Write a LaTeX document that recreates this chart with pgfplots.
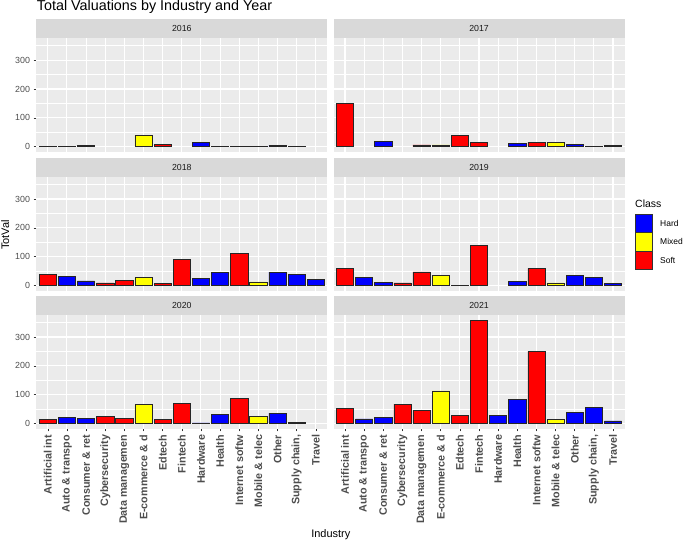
\documentclass[border=0pt]{standalone}
\usepackage{fontspec}
\setmainfont{Liberation Sans}
\usepackage{pgfplots}
\pgfplotsset{compat=1.18}

\definecolor{panelbg}{HTML}{EBEBEB}
\definecolor{stripbg}{HTML}{D9D9D9}
\definecolor{grey30}{HTML}{4D4D4D}
\definecolor{grey20}{HTML}{333333}
\definecolor{hardc}{HTML}{0000FF}
\definecolor{mixedc}{HTML}{FFFF00}
\definecolor{softc}{HTML}{FF0000}

\pgfplotsset{
  facet/.style={
    scale only axis, width=291bp, height=113.5bp, anchor=south west,
    xmin=0.4, xmax=15.6, ymin=-17.9, ymax=375.9,
    axis background/.style={fill=panelbg},
    axis line style={draw=none},
    xtick={1,...,15}, ytick={0,100,200,300}, minor ytick={50,150,250,350},
    xmajorgrids, ymajorgrids, yminorgrids,
    major grid style={white, line width=1.1bp},
    minor grid style={white, line width=0.55bp},
    tick align=outside, tick pos=left,
    major tick length=2.75bp, minor tick length=0pt,
    tick style={grey20, line width=0.55bp},
    ybar, bar width=0.9, bar shift=0pt,
    every axis plot/.append style={draw=black!85, line width=0.6bp},
    every axis title shift=0pt,
    title style={at={(0.5,1)}, anchor=south, fill=stripbg,
      minimum width=291bp, minimum height=19bp, inner sep=0pt,
      text=black!90, font=\fontsize{8.8}{10}\selectfont},
    yticklabel style={font=\fontsize{8.9}{10}\selectfont, text=grey30},
    xticklabel style={font=\fontsize{10.8}{12}\selectfont\bfseries, text=grey30,
      rotate=90, anchor=east},
    xticklabels={Artificial int, Auto \& transpo, Consumer \& ret, Cybersecurity,
      Data managemen, E-commerce \& d, Edtech, Fintech, Hardware, Health,
      Internet softw, Mobile \& telec, Other, {Supply chain,}, Travel},
    /pgf/number format/assume math mode=true,
  },
  nox/.style={xticklabels={}, xtick style={draw=none}},
  noy/.style={yticklabels={}, ytick style={draw=none}},
}

\begin{document}
\begin{tikzpicture}
\path[use as bounding box] (0bp,0bp) rectangle (685bp,541bp);

% 2016
\begin{axis}[facet, nox, at={(36.3bp,389.2bp)}, title={2016}]
\addplot[fill=hardc] coordinates {(2,1.5) (3,4) (9,16) (10,1.5) (13,4) (14,2)};
\addplot[fill=mixedc] coordinates {(6,40) (12,2)};
\addplot[fill=softc] coordinates {(1,1.5) (7,8) (11,1.5)};
\end{axis}

% 2017
\begin{axis}[facet, nox, noy, at={(333.5bp,389.2bp)}, title={2017}]
\addplot[fill=hardc] coordinates {(3,17) (10,12) (13,7) (14,1.5) (15,5)};
\addplot[fill=mixedc] coordinates {(6,6) (12,15)};
\addplot[fill=softc] coordinates {(1,150) (5,6) (7,40) (8,15) (11,15)};
\end{axis}

% 2018
\begin{axis}[facet, nox, at={(36.3bp,250.4bp)}, title={2018}]
\addplot[fill=hardc] coordinates {(2,31) (3,16) (9,25) (10,44) (13,46) (14,39) (15,22)};
\addplot[fill=mixedc] coordinates {(6,27) (12,12)};
\addplot[fill=softc] coordinates {(1,39) (4,9) (5,18) (7,7) (8,90) (11,112)};
\end{axis}

% 2019
\begin{axis}[facet, nox, noy, at={(333.5bp,250.4bp)}, title={2019}]
\addplot[fill=hardc] coordinates {(2,28) (3,10) (10,13) (13,34) (14,27) (15,6)};
\addplot[fill=mixedc] coordinates {(6,36) (12,9)};
\addplot[fill=softc] coordinates {(1,60) (4,9) (5,47) (7,1.5) (8,140) (11,59)};
\end{axis}

% 2020
\begin{axis}[facet, at={(36.3bp,112.4bp)}, title={2020}]
\addplot[fill=hardc] coordinates {(2,21) (3,17) (9,2) (10,30) (13,36) (14,3)};
\addplot[fill=mixedc] coordinates {(6,65) (12,25)};
\addplot[fill=softc] coordinates {(1,13) (4,24) (5,18) (7,13) (8,70) (11,86)};
\end{axis}

% 2021
\begin{axis}[facet, noy, at={(333.5bp,112.4bp)}, title={2021}]
\addplot[fill=hardc] coordinates {(2,16) (3,20) (9,27) (10,83) (13,37) (14,57) (15,9)};
\addplot[fill=mixedc] coordinates {(6,113) (12,13)};
\addplot[fill=softc] coordinates {(1,52) (4,67) (5,45) (7,27) (8,358) (11,250)};
\end{axis}

% titles and axis labels
\node[anchor=base west, inner sep=0pt, font=\fontsize{14.4}{16}\selectfont] at (36.7bp,530bp)
  {Total Valuations by Industry and Year};
\node[anchor=base, font=\fontsize{11}{13}\selectfont] at (330.8bp,3.7bp) {Industry};
\node[rotate=90, anchor=center, font=\fontsize{11}{13}\selectfont] at (5.3bp,306bp) {TotVal};

% legend
\node[anchor=base west, font=\fontsize{10.5}{12}\selectfont, inner sep=0pt] at (635bp,333.7bp) {Class};
\draw[grey20, line width=0.6bp, fill=hardc]  (635bp,308.3bp) rectangle (652.7bp,326.7bp);
\draw[grey20, line width=0.6bp, fill=mixedc] (635bp,290bp) rectangle (652.7bp,308.3bp);
\draw[grey20, line width=0.6bp, fill=softc]  (635bp,271.4bp) rectangle (652.7bp,290bp);
\node[anchor=west, inner sep=0pt, font=\fontsize{8.5}{10}\selectfont] at (660bp,317.5bp) {Hard};
\node[anchor=west, inner sep=0pt, font=\fontsize{8.5}{10}\selectfont] at (660bp,299.2bp) {Mixed};
\node[anchor=west, inner sep=0pt, font=\fontsize{8.5}{10}\selectfont] at (660bp,280.7bp) {Soft};
\end{tikzpicture}
\end{document}
